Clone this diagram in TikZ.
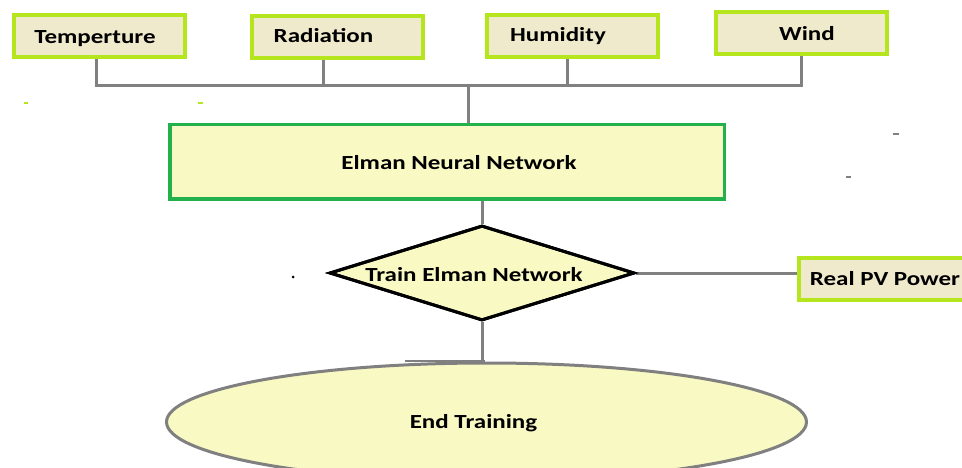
\documentclass[tikz,border=0pt]{standalone}
\usepackage{fontspec}
\setmainfont{Carlito}[FakeStretch=1.25]
\usetikzlibrary{shapes.geometric}
\definecolor{lime}{RGB}{181,230,29}
\definecolor{beige}{RGB}{240,234,204}
\definecolor{paleyel}{RGB}{249,249,196}
\definecolor{grn}{RGB}{34,177,76}
\definecolor{conngray}{RGB}{128,128,128}
\tikzset{
  lbl/.style={font=\fontsize{20}{24}\selectfont\bfseries, text=black, inner sep=0pt},
  topbox/.style={draw=lime, line width=4pt, fill=beige, minimum width=171pt, minimum height=42pt, inner sep=0pt},
  netbox/.style={draw=grn, line width=3.5pt, fill=paleyel, minimum width=554.5pt, minimum height=74.5pt, inner sep=0pt},
  decide/.style={diamond, draw=black, line width=3pt, fill=paleyel, minimum width=305pt, minimum height=95pt, inner sep=0pt},
  endell/.style={ellipse, draw=conngray, line width=3pt, fill=paleyel, minimum width=640pt, minimum height=118pt, inner sep=0pt},
  conn/.style={draw=conngray, line width=3pt},
  speck/.style={line width=1.5pt}
}
\begin{document}
\begin{tikzpicture}[x=1pt,y=-1pt]
\useasboundingbox (0,0) rectangle (962,468);
\clip (0,0) rectangle (962,468);
\fill[white] (0,0) rectangle (962,468);
% nodes
\node[topbox, label={[lbl,xshift=-4.5pt,yshift=-3pt]center:Temperture}] (t) at (99.5,36) {};
\node[topbox, label={[lbl,xshift=-14pt,yshift=1pt]center:Radiation}] (r) at (337.5,37) {};
\node[topbox, label={[lbl,xshift=-14pt]center:Humidity}] (h) at (572,36) {};
\node[topbox, label={[lbl,xshift=5.5pt,yshift=-1pt]center:Wind}] (w) at (801.5,33) {};
\node[netbox, label={[lbl,xshift=12pt,yshift=-1pt]center:Elman Neural Network}] (e) at (447,162) {};
\node[decide, label={[lbl,xshift=-8pt,yshift=-2pt]center:Train Elman Network}] (d) at (482,273) {};
\node[topbox, minimum width=186pt, label={[lbl,xshift=-7pt,yshift=0pt]center:Real PV Power}] (p) at (892,278.5) {};
\node[endell, label={[lbl,xshift=-13pt,yshift=-1pt]center:End Training}] (x) at (486.5,422) {};
% bus
\coordinate (tj) at (96,86);
\coordinate (rj) at (323,86);
\coordinate (hj) at (567,86);
\coordinate (wj) at (801,86);
\coordinate (ej) at (468,86);
\path[conn] (tj |- t.south) -- (tj) -- (wj) -- (wj |- w.south);
\path[conn] (rj |- r.south) -- (rj);
\path[conn] (hj |- h.south) -- (hj);
\path[conn] (ej) -- (ej |- e.north);
\path[conn] (d.north |- e.south) -- (d.north);
\path[conn] (d.east) -- (d.east -| p.west);
\path[conn] (d.south) -- (d.south |- x.north);
\draw[conngray, line width=1.5pt] (405,361) -- (485,361);
% redraw diamond border on top of connectors
\node[decide, fill=none] at (d) {};
% specks
\draw[lime, speck] (24,103) -- (28,103);
\draw[lime, speck] (198,103) -- (203,103);
\draw[conngray, speck] (893,134) -- (899,134);
\draw[conngray, speck] (846,177) -- (851,177);
\fill[black] (293,277) circle (1.5pt);
\end{tikzpicture}
\end{document}
